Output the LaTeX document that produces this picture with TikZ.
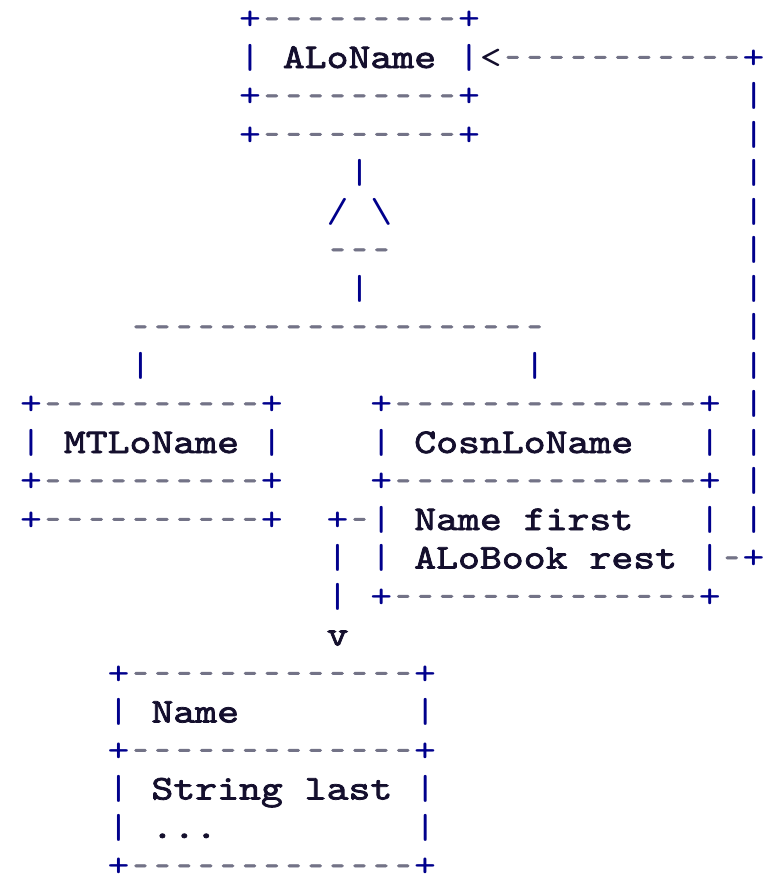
\documentclass[tikz,border=0pt]{standalone}
\usepackage{fontspec}
\setmonofont{lmmono10-regular.otf}[FakeStretch=1.2,
  BoldFont=lmmono10-regular.otf, BoldFeatures={FakeBold=2.2}]
\definecolor{framecol}{RGB}{0,0,140}
\definecolor{dashcol}{RGB}{115,115,135}
\definecolor{inkcol}{RGB}{20,15,45}
% character grid: column pitch 21.9, row pitch 38.5 (units of 0.5pt, y downwards)
% one grid cell is 0.63em wide in the stretched mono font
\newcommand\hy{\makebox[0.63em]{\scalebox{0.68}[1]{\bfseries -}}}
\newcommand\dd[1]{\textcolor{dashcol}{\foreach\k in {1,...,#1}{\hy}}}
\newcommand\vb{|}
\newcommand\cellat[5]{\node[#4] (#1) at ({20.05+21.9*#3},{29.5+38.5*#2}) {#5};}
\tikzset{
  cell/.style={inner sep=0pt, outer sep=0pt, anchor=base west,
    font=\fontsize{17.38}{20}\selectfont\ttfamily},
  rulecell/.style={cell, text=framecol},
  wordcell/.style={cell, text=inkcol, font=\fontsize{17.38}{20}\selectfont\ttfamily\bfseries},
}
\begin{document}
\begin{tikzpicture}[x=0.5pt,y=-0.5pt]
\fill[white] (0,0) rectangle (764,875);
\useasboundingbox (0,0) rectangle (764,875);
% ALoName box
\cellat{alotop}{0}{10}{rulecell}{+\dd{9}+}
\cellat{alol}{1}{10}{rulecell}{\vb}
\cellat{aloname}{1}{12}{wordcell}{ALoName}
\cellat{alor}{1}{20}{rulecell}{\vb\textcolor{inkcol}{<}\dd{11}+}
\cellat{alomid}{2}{10}{rulecell}{+\dd{9}+}
\cellat{alobot}{3}{10}{rulecell}{+\dd{9}+}
% return line on the right
\foreach \r in {2,...,13}{\cellat{back\r}{\r}{33}{rulecell}{\vb}}
% inheritance triangle
\cellat{stemtop}{4}{15}{rulecell}{\vb}
\cellat{tril}{5}{14}{rulecell}{/}
\cellat{trir}{5}{16}{rulecell}{\textbackslash}
\cellat{tribase}{6}{14}{rulecell}{\dd{3}}
\cellat{stembot}{7}{15}{rulecell}{\vb}
\cellat{branch}{8}{5}{rulecell}{\dd{19}}
\cellat{dropl}{9}{5}{rulecell}{\vb}
\cellat{dropr}{9}{23}{rulecell}{\vb}
% MTLoName box
\cellat{mttop}{10}{0}{rulecell}{+\dd{10}+}
\cellat{mtl}{11}{0}{rulecell}{\vb}
\cellat{mtname}{11}{2}{wordcell}{MTLoName}
\cellat{mtr}{11}{11}{rulecell}{\vb}
\cellat{mtmid}{12}{0}{rulecell}{+\dd{10}+}
\cellat{mtbot}{13}{0}{rulecell}{+\dd{10}+}
% CosnLoName box
\cellat{cotop}{10}{16}{rulecell}{+\dd{14}+}
\cellat{col}{11}{16}{rulecell}{\vb}
\cellat{coname}{11}{18}{wordcell}{CosnLoName}
\cellat{cor}{11}{31}{rulecell}{\vb}
\cellat{comid}{12}{16}{rulecell}{+\dd{14}+}
\cellat{linka}{13}{14}{rulecell}{+\dd{1}\vb}
\cellat{fielda}{13}{18}{wordcell}{Name}
\cellat{fieldb}{13}{23}{wordcell}{first}
\cellat{corb}{13}{31}{rulecell}{\vb}
\cellat{linkb}{14}{14}{rulecell}{\vb}
\cellat{colb}{14}{16}{rulecell}{\vb}
\cellat{fieldc}{14}{18}{wordcell}{ALoBook}
\cellat{fieldd}{14}{26}{wordcell}{rest}
\cellat{backfoot}{14}{31}{rulecell}{\vb\dd{1}+}
\cellat{linkc}{15}{14}{rulecell}{\vb}
\cellat{cobot}{15}{16}{rulecell}{+\dd{14}+}
\cellat{arrowv}{16}{14}{wordcell}{v}
% Name box
\cellat{nmtop}{17}{4}{rulecell}{+\dd{13}+}
\cellat{nml}{18}{4}{rulecell}{\vb}
\cellat{nmname}{18}{6}{wordcell}{Name}
\cellat{nmr}{18}{18}{rulecell}{\vb}
\cellat{nmmid}{19}{4}{rulecell}{+\dd{13}+}
\cellat{nmlb}{20}{4}{rulecell}{\vb}
\cellat{nmfa}{20}{6}{wordcell}{String}
\cellat{nmfb}{20}{13}{wordcell}{last}
\cellat{nmrb}{20}{18}{rulecell}{\vb}
\cellat{nmlc}{21}{4}{rulecell}{\vb}
\cellat{nmdots}{21}{6}{wordcell}{...}
\cellat{nmrc}{21}{18}{rulecell}{\vb}
\cellat{nmbot}{22}{4}{rulecell}{+\dd{13}+}
\end{tikzpicture}
\end{document}
